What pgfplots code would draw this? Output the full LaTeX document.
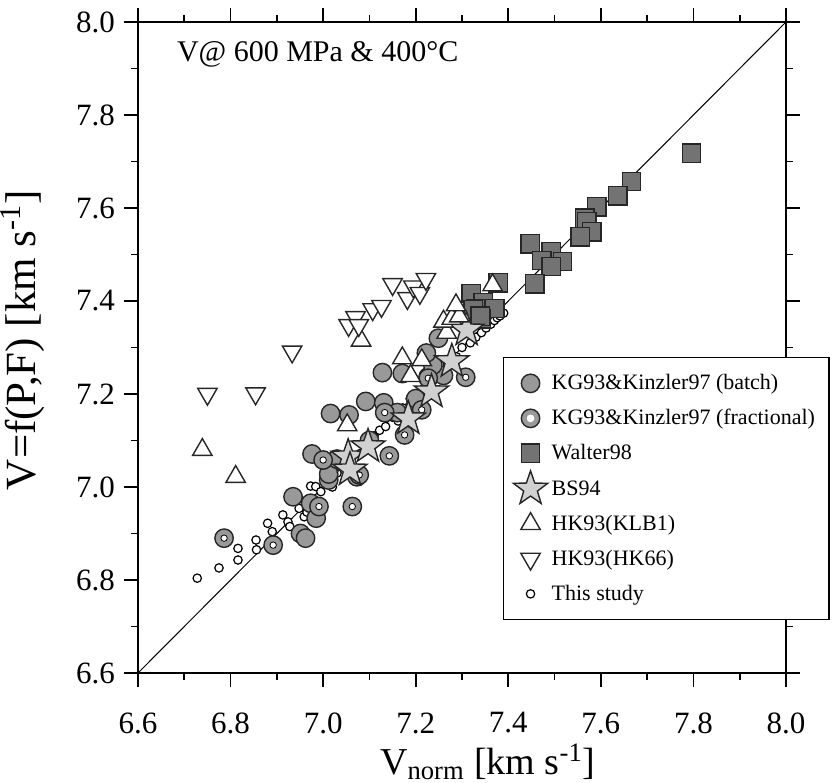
\documentclass[border=0pt]{standalone}
\usepackage{graphicx}
\usepackage{fontspec}
\setmainfont{Liberation Serif}
\usepackage{pgfplots}
\pgfplotsset{compat=1.18}
\definecolor{batchgray}{gray}{0.60}
\definecolor{waltergray}{gray}{0.45}
\definecolor{stargray}{gray}{0.82}
\definecolor{edgegray}{gray}{0.15}
\pgfdeclareplotmark{fstar}{%
  \pgfpathmoveto{\pgfpointpolar{90}{\pgfplotmarksize}}%
  \pgfpathlineto{\pgfpointpolar{126}{0.40\pgfplotmarksize}}%
  \pgfpathlineto{\pgfpointpolar{162}{\pgfplotmarksize}}%
  \pgfpathlineto{\pgfpointpolar{198}{0.40\pgfplotmarksize}}%
  \pgfpathlineto{\pgfpointpolar{234}{\pgfplotmarksize}}%
  \pgfpathlineto{\pgfpointpolar{270}{0.40\pgfplotmarksize}}%
  \pgfpathlineto{\pgfpointpolar{306}{\pgfplotmarksize}}%
  \pgfpathlineto{\pgfpointpolar{342}{0.40\pgfplotmarksize}}%
  \pgfpathlineto{\pgfpointpolar{18}{\pgfplotmarksize}}%
  \pgfpathlineto{\pgfpointpolar{54}{0.40\pgfplotmarksize}}%
  \pgfpathclose
  \pgfusepathqfillstroke
}
\begin{document}
\begin{tikzpicture}
\begin{axis}[
  scale only axis,
  width=324pt, height=325.5pt,
  xmin=6.6, xmax=8.0, ymin=6.6, ymax=8.0,
  xtick={6.6,6.8,...,8.01}, ytick={6.6,6.8,...,8.01},
  minor tick num=1,
  tick align=outside, tick pos=both,
  major tick length=7pt, minor tick length=3.5pt,
  axis line style={line width=0.8pt},
  every tick/.style={black, line width=0.8pt},
  /pgf/number format/assume math mode=true,
  /pgf/number format/.cd, fixed, fixed zerofill, precision=1, /pgfplots/.cd,
  tick label style={font=\fontsize{15.5}{15.5}\selectfont},
  xticklabel style={anchor=center, yshift=-18pt},
  yticklabel shift=1pt,
  xlabel={V\textsubscript{norm} [km s\textsuperscript{-1}]},
  ylabel={V=f(P,F) [km s\textsuperscript{-1}]},
  every axis x label/.style={at={(axis description cs:0.373,0)}, anchor=base west, yshift=-50.5pt, inner sep=0pt, font=\fontsize{19}{19}\selectfont},
  every axis y label/.style={at={(axis description cs:-0.178,0.5115)}, rotate=90, anchor=center, font=\fontsize{21.5}{21.5}\selectfont},
  clip=false,
  legend cell align=left,
  legend style={at={(0.563,0.485)}, anchor=north west, draw=black, line width=0.6pt,
    inner xsep=5pt, inner ysep=4pt,
    font=\fontsize{11}{11}\selectfont, row sep=0pt,
    nodes={inner sep=2pt, text height=10pt, text depth=3.5pt}},
]
\coordinate (sw) at (rel axis cs:0,0);
\coordinate (ne) at (rel axis cs:1,1);
\addplot[black, line width=0.5pt, forget plot] coordinates {(6.6,6.6) (8.0,8.0)};
% This study (drawn first, legend entry added at the end)
\addplot[only marks, mark=*, mark size=2.1pt, mark options={fill=white, draw=black, line width=0.6pt}, forget plot] table {
x y
6.728 6.804
6.775 6.826
6.816 6.868
6.816 6.843
6.855 6.886
6.856 6.865
6.880 6.922
6.890 6.904
6.913 6.940
6.924 6.925
6.928 6.915
6.948 6.954
6.959 6.936
6.965 6.946
6.973 7.002
6.984 7.001
6.995 6.990
7.005 7.010
7.020 7.000
7.030 7.030
7.045 7.050
7.060 7.060
7.080 7.072
7.095 7.098
7.110 7.110
7.122 7.122
7.135 7.130
7.150 7.150
7.162 7.142
7.172 7.170
7.188 7.190
7.200 7.200
7.218 7.212
7.238 7.230
7.252 7.250
7.268 7.268
7.288 7.280
7.300 7.300
7.318 7.310
7.330 7.322
7.342 7.332
7.352 7.342
7.362 7.350
7.370 7.358
7.376 7.364
7.382 7.368
7.390 7.374
};
% KG93 & Kinzler97 batch
\addplot[only marks, mark=*, mark size=4.6pt, mark options={fill=batchgray, draw=edgegray, line width=0.7pt}] table {
x y
6.951 6.900
6.962 6.890
6.935 6.979
6.973 6.965
6.985 6.933
6.976 7.071
7.012 7.015
7.012 7.028
7.073 7.022
7.030 7.060
7.100 7.100
7.016 7.158
7.056 7.155
7.092 7.184
7.131 7.181
7.160 7.160
7.200 7.190
7.128 7.246
7.171 7.244
7.227 7.237
7.260 7.240
7.237 7.262
7.223 7.288
7.249 7.320
};
\addlegendentry{KG93\&Kinzler97 (batch)}
% KG93 & Kinzler97 fractional
\addplot[only marks, mark=*, mark size=4.6pt, mark options={fill=batchgray, draw=edgegray, line width=0.7pt},
  legend image code/.code={\draw[fill=batchgray, draw=edgegray, line width=0.7pt] (0.3cm,0cm) circle (4.6pt); \fill[white] (0.3cm,0cm) circle (1.6pt);}] table {
x y
6.786 6.890
6.892 6.875
6.991 6.958
7.063 6.958
7.000 7.058
7.078 7.026
7.143 7.067
7.133 7.160
7.176 7.112
7.213 7.166
7.227 7.234
7.308 7.236
};
\addlegendentry{KG93\&Kinzler97 (fractional)}
\addplot[only marks, mark=*, mark size=1.6pt, mark options={fill=white, draw=none}, forget plot] table {
x y
6.786 6.890
6.892 6.875
6.991 6.958
7.063 6.958
7.000 7.058
7.078 7.026
7.143 7.067
7.133 7.160
7.176 7.112
7.213 7.166
7.227 7.234
7.308 7.236
};
% Walter98
\addplot[only marks, mark=square*, mark size=4.6pt, mark options={fill=waltergray, draw=edgegray, line width=0.7pt}] table {
x y
7.796 7.718
7.666 7.657
7.637 7.626
7.591 7.603
7.565 7.578
7.570 7.571
7.580 7.549
7.555 7.538
7.447 7.523
7.493 7.506
7.472 7.487
7.517 7.485
7.493 7.474
7.457 7.437
7.378 7.439
7.320 7.416
7.346 7.396
7.371 7.384
7.330 7.384
7.342 7.362
7.324 7.381
7.339 7.367
};
\addlegendentry{Walter98}
% BS94
\addplot[only marks, mark=fstar, mark size=9pt, mark options={fill=stargray, draw=edgegray, line width=0.7pt}] table {
x y
7.054 7.065
7.058 7.037
7.097 7.087
7.184 7.147
7.234 7.205
7.278 7.270
7.310 7.338
};
\addlegendentry{BS94}
% HK93 KLB1
\addplot[only marks, mark=triangle*, mark size=5.6pt, mark options={fill=white, draw=edgegray, line width=0.7pt}] table {
x y
6.739 7.080
6.811 7.022
7.052 7.133
7.082 7.315
7.171 7.277
7.213 7.273
7.189 7.239
7.267 7.332
7.260 7.356
7.278 7.362
7.294 7.367
7.287 7.391
7.366 7.434
};
\addlegendentry{HK93(KLB1)}
% HK93 HK66
\addplot[only marks, mark=triangle*, mark size=5.6pt, mark options={fill=white, draw=edgegray, line width=0.7pt, rotate=180}] table {
x y
6.750 7.200
6.854 7.201
6.933 7.291
7.055 7.348
7.070 7.365
7.077 7.348
7.107 7.382
7.126 7.389
7.150 7.436
7.182 7.406
7.195 7.431
7.209 7.417
7.222 7.447
};
\addlegendentry{HK93(HK66)}
\addlegendimage{only marks, mark=*, mark size=2.1pt, mark options={fill=white, draw=black, line width=0.6pt}}
\addlegendentry{This study}
\node[anchor=base west, font=\fontsize{15}{15}\selectfont] at (axis cs:6.669,7.914) {V@ 600 MPa \& 400°C};
\end{axis}
\pgfresetboundingbox
\useasboundingbox ([shift={(-69pt,-54.5pt)}]sw) rectangle ([shift={(26pt,11pt)}]ne);
\end{tikzpicture}
\end{document}
